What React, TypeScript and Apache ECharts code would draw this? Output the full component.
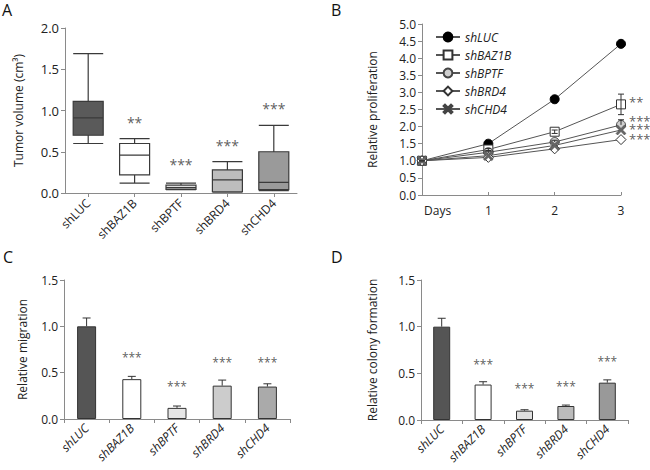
import React, { useEffect, useRef } from "react";
import * as echarts from "echarts";

// ---------- Panel A: tumor volume boxplots ----------
const groups = ["shLUC", "shBAZ1B", "shBPTF", "shBRD4", "shCHD4"];
// [min, Q1, median, Q3, max]
const tumorLUC = [0.6, 0.7, 0.91, 1.11, 1.69];
const tumorBAZ1B = [0.12, 0.22, 0.46, 0.6, 0.66];
const tumorBPTF = [0.04, 0.045, 0.065, 0.095, 0.12];
const tumorBRD4 = [0.01, 0.015, 0.16, 0.28, 0.38];
const tumorCHD4 = [0.03, 0.04, 0.13, 0.5, 0.82];
const tumorFills = ["#5a5a5a", "#ffffff", "#e2e2e2", "#bdbdbd", "#9a9a9a"];
const tumorStars = ["", "**", "***", "***", "***"];
const tumorStarY = [0, 0.86, 0.34, 0.58, 1.02];

// ---------- Panel B: proliferation ----------
const days = ["Days", "1", "2", "3"];
const prolifLUC = [1.0, 1.5, 2.8, 4.42];
const prolifBAZ1B = [1.0, 1.33, 1.85, 2.65];
const prolifBPTF = [1.0, 1.25, 1.55, 2.05];
const prolifBRD4 = [1.0, 1.1, 1.35, 1.62];
const prolifCHD4 = [1.0, 1.15, 1.45, 1.9];
const prolifErrBAZ1B = [0, 0.03, 0.05, 0.3];
const prolifErrBPTF = [0, 0.03, 0.05, 0.15];
const prolifStars = ["**", "***", "***", "***"];
const prolifStarY = [2.72, 2.16, 1.93, 1.64];

// ---------- Panel C: migration ----------
const migration = [1.0, 0.43, 0.12, 0.36, 0.35];
const migrationErr = [0.09, 0.03, 0.02, 0.06, 0.03];
const migrationFills = ["#555555", "#ffffff", "#e6e6e6", "#cccccc", "#aaaaaa"];
const migrationStars = ["", "***", "***", "***", "***"];
const migrationStarY = [0, 0.66, 0.35, 0.61, 0.61];

// ---------- Panel D: colony formation ----------
const colony = [1.0, 0.38, 0.1, 0.15, 0.4];
const colonyErr = [0.09, 0.03, 0.01, 0.01, 0.03];
const colonyFills = ["#555555", "#ffffff", "#e0e0e0", "#bbbbbb", "#999999"];
const colonyStars = ["", "***", "***", "***", "***"];
const colonyStarY = [0, 0.6, 0.34, 0.36, 0.63];

const FONT = "Open Sans";
const X_PATH =
  "path://M0,1.6 L1.6,0 L5,3.4 L8.4,0 L10,1.6 L6.6,5 L10,8.4 L8.4,10 L5,6.6 L1.6,10 L0,8.4 L3.4,5 Z";

function starSeries(xi: number, stars: string[], ys: number[], fontSize: number, extra: any = {}) {
  const data: any[] = [];
  stars.forEach((s, i) => {
    if (s) data.push({ value: [i, ys[i]], name: s });
  });
  return {
    type: "scatter",
    xAxisIndex: xi,
    yAxisIndex: xi,
    symbolSize: 0,
    silent: true,
    data,
    label: {
      show: true,
      position: "inside",
      formatter: (p: any) => p.name,
      color: "#333",
      fontSize,
      fontFamily: FONT,
      ...extra,
    },
    z: 10,
  };
}

function errSeries(xi: number, values: number[], errs: number[], cap: number, both: boolean) {
  return {
    type: "custom",
    xAxisIndex: xi,
    yAxisIndex: xi,
    silent: true,
    z: 5,
    data: values.map((v, i) => [i, v, errs[i]]),
    renderItem: (params: any, api: any) => {
      const x = api.value(0);
      const v = api.value(1);
      const e = api.value(2);
      const top = api.coord([x, v + e]);
      const bot = api.coord([x, both ? v - e : v]);
      const st = { stroke: "#333", lineWidth: 1 };
      return {
        type: "group",
        children: [
          { type: "line", shape: { x1: top[0], y1: top[1], x2: bot[0], y2: bot[1] }, style: st },
          { type: "line", shape: { x1: top[0] - cap, y1: top[1], x2: top[0] + cap, y2: top[1] }, style: st },
          ...(both
            ? [{ type: "line", shape: { x1: bot[0] - cap, y1: bot[1], x2: bot[0] + cap, y2: bot[1] }, style: st }]
            : []),
        ],
      };
    },
  };
}

export default function App() {
  const ref = useRef<HTMLDivElement>(null);
  useEffect(() => {
    if (!ref.current) return;
    const chart = echarts.init(ref.current, null, { renderer: "svg" });
    const axisLine = { show: true, lineStyle: { color: "#8a8a8a", width: 1 } };
    const valueLabel = (size: number) => ({
      fontFamily: FONT,
      fontSize: size,
      color: "#222",
      formatter: (v: number) => v.toFixed(1),
      margin: 6,
    });
    const yName = (name: string, gap: number, size: number) => ({
      name,
      nameLocation: "middle",
      nameGap: gap,
      nameTextStyle: { fontFamily: FONT, fontSize: size, color: "#222" },
    });

    const lineCommon = {
      type: "line",
      xAxisIndex: 1,
      yAxisIndex: 1,
      symbolSize: 9,
      lineStyle: { color: "#555", width: 1 },
    };

    chart.setOption({
      animation: false,
      textStyle: { fontFamily: FONT },
      graphic: [
        { type: "text", left: 2, top: 2, style: { text: "A", fontSize: 16, fontFamily: FONT, fill: "#111" } },
        { type: "text", left: 331, top: 2, style: { text: "B", fontSize: 16, fontFamily: FONT, fill: "#111" } },
        { type: "text", left: 3, top: 249, style: { text: "C", fontSize: 16, fontFamily: FONT, fill: "#111" } },
        { type: "text", left: 331, top: 249, style: { text: "D", fontSize: 16, fontFamily: FONT, fill: "#111" } },
      ],
      legend: {
        data: ["shLUC", "shBAZ1B", "shBPTF", "shBRD4", "shCHD4"],
        orient: "vertical",
        left: 430,
        top: 26,
        itemWidth: 24,
        itemHeight: 11,
        itemGap: 6,
        textStyle: { fontFamily: FONT, fontSize: 12, fontStyle: "italic", color: "#222" },
      },
      grid: [
        { left: 65, top: 28, width: 232, height: 165 },
        { left: 422, top: 24, width: 199, height: 171 },
        { left: 64, top: 280, width: 226, height: 139 },
        { left: 421, top: 280, width: 207, height: 140 },
      ],
      xAxis: [
        {
          gridIndex: 0,
          type: "category",
          data: groups,
          axisLine,
          axisTick: { show: true, alignWithLabel: true, length: 4, lineStyle: { color: "#8a8a8a" } },
          axisLabel: { rotate: 45, fontFamily: FONT, fontSize: 12, color: "#222", margin: 8, interval: 0 },
        },
        {
          gridIndex: 1,
          type: "category",
          data: [{ value: days[0], textStyle: { align: "left", padding: [0, 0, 0, 2] } }, ...days.slice(1)],
          boundaryGap: false,
          axisLine,
          axisTick: { show: true, inside: true, length: 3, lineStyle: { color: "#8a8a8a" } },
          axisLabel: { fontFamily: FONT, fontSize: 12, color: "#222", margin: 9 },
        },
        {
          gridIndex: 2,
          type: "category",
          data: groups,
          axisLine,
          axisTick: { show: true, length: 4, lineStyle: { color: "#8a8a8a" } },
          axisLabel: { rotate: 45, fontFamily: FONT, fontSize: 12, fontStyle: "italic", color: "#222", margin: 7, interval: 0 },
        },
        {
          gridIndex: 3,
          type: "category",
          data: groups,
          axisLine,
          axisTick: { show: true, length: 4, lineStyle: { color: "#8a8a8a" } },
          axisLabel: { rotate: 45, fontFamily: FONT, fontSize: 12, fontStyle: "italic", color: "#222", margin: 7, interval: 0 },
        },
      ],
      yAxis: [
        {
          gridIndex: 0,
          type: "value",
          min: 0,
          max: 2,
          interval: 0.5,
          axisLine,
          axisTick: { show: true, length: 4, lineStyle: { color: "#8a8a8a" } },
          splitLine: { show: false },
          axisLabel: valueLabel(13),
          ...yName("Tumor volume (cm³)", 41, 12),
        },
        {
          gridIndex: 1,
          type: "value",
          min: 0,
          max: 5,
          interval: 0.5,
          axisLine,
          axisTick: { show: true, length: 4, lineStyle: { color: "#8a8a8a" } },
          splitLine: { show: false },
          axisLabel: valueLabel(12),
          ...yName("Relative proliferation", 44, 12),
        },
        {
          gridIndex: 2,
          type: "value",
          min: 0,
          max: 1.5,
          interval: 0.5,
          axisLine,
          axisTick: { show: true, length: 4, lineStyle: { color: "#8a8a8a" } },
          splitLine: { show: false },
          axisLabel: valueLabel(12),
          ...yName("Relative migration", 36, 12),
        },
        {
          gridIndex: 3,
          type: "value",
          min: 0,
          max: 1.5,
          interval: 0.5,
          axisLine,
          axisTick: { show: true, length: 4, lineStyle: { color: "#8a8a8a" } },
          splitLine: { show: false },
          axisLabel: valueLabel(12),
          ...yName("Relative colony formation", 43, 12),
        },
      ],
      series: [
        {
          type: "boxplot",
          xAxisIndex: 0,
          yAxisIndex: 0,
          boxWidth: [30, 30],
          data: [tumorLUC, tumorBAZ1B, tumorBPTF, tumorBRD4, tumorCHD4].map((v, i) => ({
            value: v,
            itemStyle: { color: tumorFills[i], borderColor: "#3a3a3a", borderWidth: 1.2 },
          })),
        },
        starSeries(0, tumorStars, tumorStarY, 14),
        // Panel B
        errSeries(1, prolifBAZ1B, prolifErrBAZ1B, 3, true),
        errSeries(1, prolifBPTF, prolifErrBPTF, 3, false),
        {
          ...lineCommon,
          name: "shLUC",
          data: prolifLUC,
          symbol: "circle",
          itemStyle: { color: "#000", borderColor: "#000", borderWidth: 1 },
        },
        {
          ...lineCommon,
          name: "shBAZ1B",
          data: prolifBAZ1B,
          symbol: "rect",
          itemStyle: { color: "#fff", borderColor: "#333", borderWidth: 1 },
        },
        {
          ...lineCommon,
          name: "shBPTF",
          data: prolifBPTF,
          symbol: "circle",
          itemStyle: { color: "#cfcfcf", borderColor: "#444", borderWidth: 1 },
        },
        {
          ...lineCommon,
          name: "shBRD4",
          data: prolifBRD4,
          symbol: "diamond",
          symbolSize: 10,
          itemStyle: { color: "#fff", borderColor: "#333", borderWidth: 1 },
        },
        {
          ...lineCommon,
          name: "shCHD4",
          data: prolifCHD4,
          symbol: X_PATH,
          symbolSize: 10,
          itemStyle: { color: "#666", borderColor: "#444", borderWidth: 0.5 },
        },
        {
          type: "scatter",
          xAxisIndex: 1,
          yAxisIndex: 1,
          symbolSize: 0,
          silent: true,
          data: prolifStars.map((s, i) => ({ value: [3, prolifStarY[i]], name: s })),
          label: {
            show: true,
            position: "right",
            distance: 8,
            formatter: (p: any) => p.name,
            color: "#333",
            fontSize: 13,
            lineHeight: 7,
            fontFamily: FONT,
          },
        },
        // Panel C
        {
          type: "bar",
          xAxisIndex: 2,
          yAxisIndex: 2,
          barWidth: 19,
          data: migration.map((v, i) => ({
            value: v,
            itemStyle: { color: migrationFills[i], borderColor: "#333", borderWidth: 1 },
          })),
        },
        errSeries(2, migration, migrationErr, 4, false),
        starSeries(2, migrationStars, migrationStarY, 12),
        // Panel D
        {
          type: "bar",
          xAxisIndex: 3,
          yAxisIndex: 3,
          barWidth: 17,
          data: colony.map((v, i) => ({
            value: v,
            itemStyle: { color: colonyFills[i], borderColor: "#333", borderWidth: 1 },
          })),
        },
        errSeries(3, colony, colonyErr, 4, false),
        starSeries(3, colonyStars, colonyStarY, 12),
      ],
    });
    return () => chart.dispose();
  }, []);
  return (
    <div
      ref={ref}
      style={{ position: "fixed", left: 0, top: 0, width: 650, height: 470, background: "#fff" }}
    />
  );
}
